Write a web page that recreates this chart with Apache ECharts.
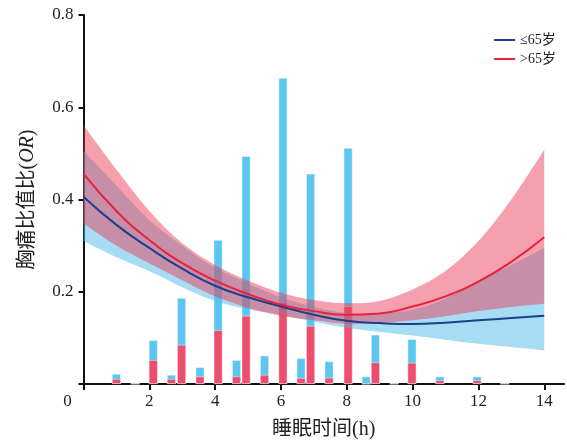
<!DOCTYPE html>
<html><head><meta charset="utf-8">
<script src="https://cdn.jsdelivr.net/npm/echarts@6/dist/echarts.min.js"></script>
<style>html,body{margin:0;padding:0;background:#fff}#c{width:567px;height:445px}</style>
</head><body><div id="c"></div>
<script>
const xs = [0,1,2,3,4,5,6,7,8,9,10,11,12,13,14];
const blueLine  = [0.406,0.345,0.295,0.25,0.213,0.188,0.168,0.15,0.137,0.132,0.13,0.133,0.138,0.143,0.148];
const blueLower = [0.31,0.275,0.245,0.21,0.18,0.162,0.15,0.135,0.122,0.113,0.105,0.096,0.087,0.08,0.073];
const blueUpper = [0.505,0.43,0.355,0.3,0.252,0.218,0.188,0.167,0.154,0.154,0.161,0.185,0.225,0.258,0.295];
const redLine   = [0.456,0.375,0.312,0.262,0.224,0.195,0.172,0.158,0.15,0.153,0.168,0.19,0.222,0.265,0.318];
const redLower  = [0.348,0.3,0.262,0.225,0.19,0.165,0.148,0.138,0.13,0.132,0.138,0.147,0.158,0.167,0.174];
const redUpper  = [0.561,0.465,0.375,0.305,0.258,0.224,0.198,0.182,0.175,0.18,0.205,0.245,0.31,0.4,0.508];

const barX    = [1.0,1.57,2.12,2.67,2.98,3.54,4.09,4.65,4.94,5.5,6.06,6.61,6.9,7.46,8.04,8.59,8.87,9.44,9.98,10.83,11.96,12.8];
const blueBar = [0.022,0.003,0.095,0.02,0.187,0.0365,0.3125,0.052,0.494,0.0617,0.664,0.056,0.456,0.0495,0.512,0.0165,0.107,0.003,0.0975,0.0165,0.0165,0.003];
const redBar  = [0.011,0,0.052,0.011,0.085,0.0165,0.117,0.0165,0.148,0.02,0.178,0.013,0.126,0.0136,0.169,0,0.047,0,0.046,0.008,0.008,0];

const xTicks = [0,2,4,6,8,10,12,14];
const legendNames = ['≤65岁','>65岁'];
const xName = '睡眠时间(h)';
const yNameMain = '胸痛比值比';
const yNameItalic = 'OR';

const FONT = "'Liberation Serif','Noto Sans CJK SC',serif";
const pairs = (a) => xs.map((x,i)=>[x,a[i]]);

// Catmull-Rom smooth path through pixel points (forward), continuing an existing path
function curveTo(pts, start) {
  let d = start ? 'M' + pts[0][0] + ',' + pts[0][1] : 'L' + pts[0][0] + ',' + pts[0][1];
  for (let i = 0; i < pts.length - 1; i++) {
    const p0 = pts[Math.max(0, i-1)], p1 = pts[i], p2 = pts[i+1], p3 = pts[Math.min(pts.length-1, i+2)];
    const c1 = [p1[0] + (p2[0]-p0[0])/6, p1[1] + (p2[1]-p0[1])/6];
    const c2 = [p2[0] - (p3[0]-p1[0])/6, p2[1] - (p3[1]-p1[1])/6];
    d += 'C' + c1[0] + ',' + c1[1] + ',' + c2[0] + ',' + c2[1] + ',' + p2[0] + ',' + p2[1];
  }
  return d;
}
function bandSeries(upper, lower, color, z) {
  return {
    type:'custom', z:z, silent:true, data:[[0,0]],
    renderItem:(params, api) => {
      const up = xs.map((x,i)=>api.coord([x, upper[i]]));
      const lo = xs.map((x,i)=>api.coord([x, lower[i]])).reverse();
      const d = curveTo(up, true) + curveTo(lo, false) + 'Z';
      return {type:'path', shape:{pathData:d}, style:{fill:color, stroke:null}};
    }
  };
}

const chart = echarts.init(document.getElementById('c'), null, {renderer:'canvas'});
chart.setOption({
  animation:false,
  backgroundColor:'#fff',
  textStyle:{fontFamily:FONT},
  grid:{left:83.5, top:15, width:480.5, height:372, containLabel:false},
  legend:{
    data:legendNames, orient:'vertical', right:6, top:28, itemGap:5,
    icon:'rect', itemWidth:21, itemHeight:2,
    textStyle:{fontFamily:FONT, fontSize:14, color:'#222'}
  },
  xAxis:{
    type:'value', min:0, max:14.6, interval:2,
    name:xName, nameLocation:'middle', nameGap:36,
    nameTextStyle:{fontFamily:FONT, fontSize:20, color:'#222'},
    axisLine:{show:true, onZero:false, lineStyle:{color:'#111', width:2}},
    axisTick:{show:true, length:6, customValues:xTicks, lineStyle:{color:'#111', width:2}},
    axisLabel:{customValues:xTicks, margin:9, fontSize:17, color:'#222', fontFamily:FONT,
      formatter:(v)=> v===0 ? '{o|0}' : String(v),
      rich:{o:{fontSize:17, fontFamily:FONT, color:'#222', padding:[0,32,0,0]}}},
    splitLine:{show:false}
  },
  yAxis:{
    type:'value', min:0, max:0.8, interval:0.2,
    name:yNameMain+'({i|'+yNameItalic+'})', nameLocation:'middle', nameGap:46,
    nameTextStyle:{fontFamily:FONT, fontSize:20, color:'#222',
      rich:{i:{fontStyle:'italic', fontFamily:FONT, fontSize:20, color:'#222'}}},
    axisLine:{show:true, lineStyle:{color:'#111', width:2}},
    axisTick:{show:true, length:5, lineStyle:{color:'#111', width:2}},
    axisLabel:{margin:10, fontSize:17, color:'#222', fontFamily:FONT,
      formatter:(v)=> v===0 ? '' : v.toFixed(1)},
    splitLine:{show:false}
  },
  series:[
    {type:'bar', name:'b1', data:barX.map((x,i)=>[x,blueBar[i]]), barWidth:9, barGap:'-100%',
      itemStyle:{color:'#5cc6f1', borderColor:'rgba(255,255,255,0.55)', borderWidth:0.8}, z:1},
    {type:'bar', name:'b2', data:barX.map((x,i)=>[x,redBar[i]]), barWidth:9, barGap:'-100%',
      itemStyle:{color:'#ee4d6d', borderColor:'rgba(255,255,255,0.55)', borderWidth:0.8}, z:1},
    bandSeries(blueUpper, blueLower, 'rgba(80,185,235,0.5)', 2),
    bandSeries(redUpper, redLower, 'rgba(234,57,82,0.48)', 3),
    {type:'line', name:legendNames[0], data:pairs(blueLine), smooth:true, symbol:'none',
      lineStyle:{color:'#1d3f8c', width:2}, itemStyle:{color:'#1d3f8c'}, z:4},
    {type:'line', name:legendNames[1], data:pairs(redLine), smooth:true, symbol:'none',
      lineStyle:{color:'#e8213f', width:2}, itemStyle:{color:'#e8213f'}, z:5}
  ]
});
</script></body></html>
